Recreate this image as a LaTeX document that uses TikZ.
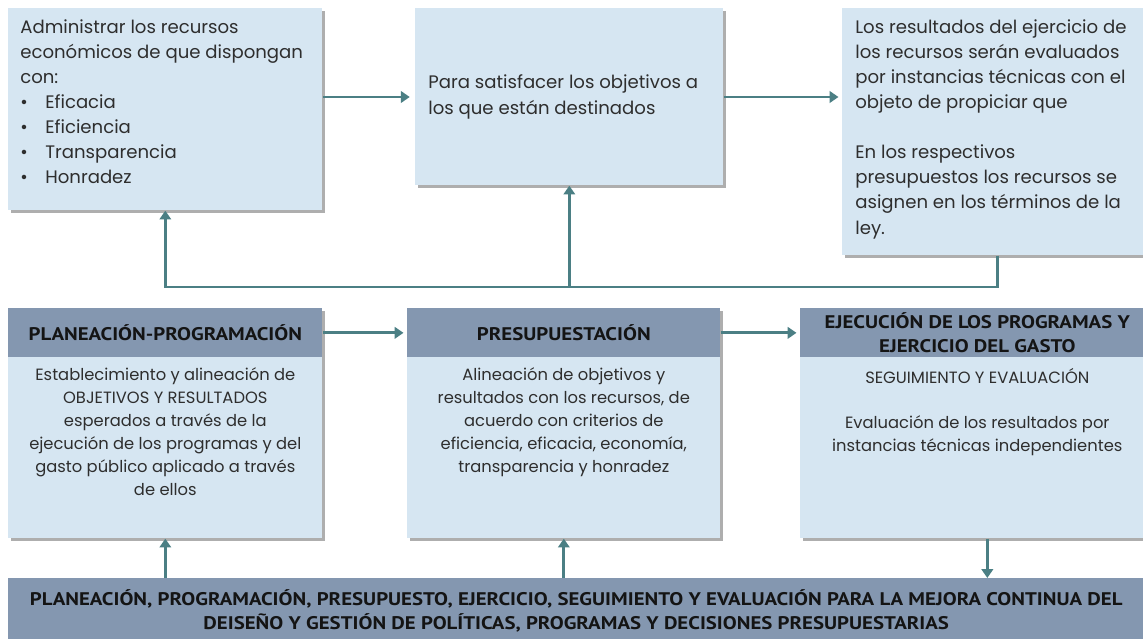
\documentclass[tikz,border=0pt]{standalone}
\usepackage{fontspec}
\setmainfont{Poppins}
\newfontfamily\hdrfont[FakeStretch=1.14]{PT Sans}
\usetikzlibrary{positioning,shadows,arrows.meta}
\definecolor{boxfill}{HTML}{D6E6F2}
\definecolor{hdrfill}{HTML}{8497B0}
\definecolor{linkteal}{HTML}{4B7F84}
\definecolor{inktext}{HTML}{2E2E2E}
\tikzset{
infobox/.style={rectangle,fill=boxfill,anchor=north west,inner sep=0pt,
  drop shadow={shadow xshift=1.6pt,shadow yshift=-1.6pt,fill=black!70,opacity=.45}},
hdrbox/.style={rectangle,fill=hdrfill,anchor=north west,inner sep=0pt,align=center,
  font=\hdrfont\bfseries\fontsize{10.4}{14}\selectfont,text=black!92},
toptext/.style={inner sep=0pt,align=left,text=inktext,font=\fontsize{10.3}{14.3}\selectfont},
midtext/.style={inner sep=0pt,align=center,text=inktext,font=\fontsize{9.3}{13}\selectfont},
linkline/.style={draw=linkteal,line width=1.7pt},
linkarr/.style={linkline,-{Triangle[length=5pt,width=6.5pt]}}
}
\newcommand{\bulitem}[1]{\makebox[0.5cm][l]{\textbullet}#1}

\begin{document}
\begin{tikzpicture}[x=0.02cm,y=-0.02cm]
\useasboundingbox (0,0) rectangle (1143,639);
\clip (0,0) rectangle (1143,639);
% upper row
\node[infobox,minimum width=6.28cm,minimum height=4.04cm] (admin) at (8,8) {};
\node[infobox,minimum width=6.16cm,minimum height=3.54cm] (satis) at (415,8) {};
\node[infobox,minimum width=6.2cm,minimum height=4.94cm] (evalu) at (842,8) {};
\node[toptext,anchor=north west] (admintx) at (20,19) {Administrar los recursos\\económicos de que dispongan\\con:\\\bulitem{Eficacia}\\\bulitem{Eficiencia}\\\bulitem{Transparencia}\\\bulitem{Honradez}};
\node[toptext,anchor=west] (satistx) at (428,97) {Para satisfacer los objetivos a\\los que están destinados};
\node[toptext,anchor=north west] (evalutx) at (855,19) {Los resultados del ejercicio de\\los recursos serán evaluados\\por instancias técnicas con el\\objeto de propiciar que\\[14.3pt]En los respectivos\\presupuestos los recursos se\\asignen en los términos de la\\ley.};
% middle row
\node[infobox,minimum width=6.28cm,minimum height=4.6cm] (plan) at (8,308) {};
\node[infobox,minimum width=6.26cm,minimum height=4.6cm] (presu) at (407,308) {};
\node[infobox,minimum width=7.08cm,minimum height=4.6cm] (ejec) at (800,308) {};
\node[hdrbox,minimum width=6.28cm,minimum height=0.98cm] (planhd) at (8,308) {PLANEACIÓN-PROGRAMACIÓN};
\node[hdrbox,minimum width=6.26cm,minimum height=0.98cm] (presuhd) at (407,308) {PRESUPUESTACIÓN};
\node[hdrbox,minimum width=7.08cm,minimum height=0.98cm] (ejechd) at (800,308) {EJECUCIÓN DE LOS PROGRAMAS Y\\EJERCICIO DEL GASTO};
\node[midtext,below=0.2cm of planhd] (plantx) {Establecimiento y alineación de\\OBJETIVOS Y RESULTADOS\\esperados a través de la\\ejecución de los programas y del\\gasto público aplicado a través\\de ellos};
\node[midtext,below=0.2cm of presuhd] (presutx) {Alineación de objetivos y\\resultados con los recursos, de\\acuerdo con criterios de\\eficiencia, eficacia, economía,\\transparencia y honradez};
\node[midtext,below=0.2cm of ejechd] (ejectx) {SEGUIMIENTO Y EVALUACIÓN\\[13pt]Evaluación de los resultados por\\instancias técnicas independientes};
% bottom bar
\node[hdrbox,minimum width=22.72cm,minimum height=1.3cm] (mejora) at (8,578) {PLANEACIÓN, PROGRAMACIÓN, PRESUPUESTO, EJERCICIO, SEGUIMIENTO Y EVALUACIÓN PARA LA MEJORA CONTINUA DEL\\DEISEÑO Y GESTIÓN DE POLÍTICAS, PROGRAMAS Y DECISIONES PRESUPUESTARIAS};
% connectors
\coordinate (fbrow) at (0,287);
\draw[linkarr] (admin.east |- 0,97) -- ([xshift=-3pt]satis.west |- 0,97);
\draw[linkarr] (satis.east |- 0,97) -- ([xshift=-2pt]evalu.west |- 0,97);
\draw[linkarr] (evalu.south) -- (evalu.south |- fbrow) -| (admin.south);
\draw[linkarr] (satis.south |- fbrow) -- (satis.south);
\draw[linkarr] (planhd.east) -- ([xshift=-2pt]presuhd.west);
\draw[linkarr] (presuhd.east) -- ([xshift=-2pt]ejechd.west);
\draw[linkarr] (plan.south |- mejora.north) -- (plan.south);
\draw[linkarr] (presu.south |- mejora.north) -- (presu.south);
\draw[linkarr] ([xshift=0.2cm]ejec.south) -- ([xshift=0.2cm]ejec.south |- mejora.north);
\end{tikzpicture}
\end{document}
